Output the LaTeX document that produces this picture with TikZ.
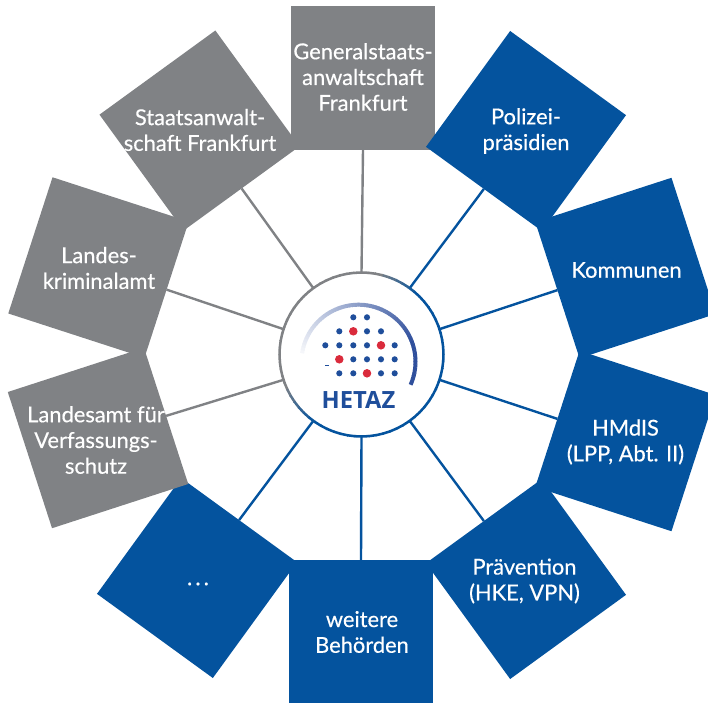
\documentclass[tikz,border=0pt]{standalone}
\usepackage{fontspec}
\setmainfont[FakeBold=0.4]{Lato}
\newfontfamily\hetazfont{Open Sans}
\definecolor{hblue}{HTML}{04539E}
\definecolor{hgray}{HTML}{808285}
\definecolor{hred}{HTML}{DA2B3C}
\definecolor{harc}{HTML}{2F4F9C}
\definecolor{hdot}{HTML}{1F4E9B}
\tikzset{
  sq/.style={rectangle,minimum size=107.4pt,inner sep=0pt,outer sep=0pt,fill=#1},
  lab/.style={text=white,align=center,font=\fontsize{16.4pt}{19.3pt}\selectfont,inner sep=0pt},
  conb/.style={draw=hblue,line width=1.8pt},
  cong/.style={draw=hgray,line width=1.8pt},
  bdot/.style={circle,fill=hdot,minimum size=4.6pt,inner sep=0pt},
  rdot/.style={circle,fill=hred,minimum size=6.4pt,inner sep=0pt},
}
\begin{document}
\begin{tikzpicture}[x=0.75pt,y=-0.75pt]
\useasboundingbox (0,0) rectangle (708,703);
\clip (0,0) rectangle (708,703);
% hub
\node[circle,minimum size=123pt,inner sep=0pt,outer sep=0pt] (hub) at (361.5,354.5) {};
% squares (order gives the overlaps)
\node[sq=hblue,rotate=144] (sD) at (197,578) {};
\node[sq=hgray,rotate=108] (sL) at (98,438) {};
\node[sq=hgray,rotate=72] (sLK) at (98.5,267.5) {};
\node[sq=hgray,rotate=36] (sS) at (199.5,130.5) {};
\node[sq=hgray,rotate=0] (sG) at (363,78) {};
\node[sq=hblue,rotate=-36] (sP) at (526,131) {};
\node[sq=hblue,rotate=-72] (sK) at (625.5,268) {};
\node[sq=hblue,rotate=-108] (sH) at (625.5,441) {};
\node[sq=hblue,rotate=-144] (sV) at (526,579) {};
\node[sq=hblue,rotate=180] (sW) at (361,632) {};
% connectors
\foreach \a/\n/\st in {54/sP/conb,18/sK/conb,-18/sH/conb,-54/sV/conb,-90/sW/conb,-126/sD/conb,-162/sL/cong,162/sLK/cong,126/sS/cong,90/sG/cong}{
  \draw[\st] (hub.\a) -- (\n.south);
}
% hub ring
\foreach \i in {0,...,71}{
  \pgfmathsetmacro{\aa}{\i*5}
  \pgfmathsetmacro{\bb}{\aa+5.5}
  \pgfmathsetmacro{\xa}{361.5+82*cos(\aa)}
  \pgfmathsetmacro{\ya}{354.5-82*sin(\aa)}
  \pgfmathsetmacro{\xb}{361.5+82*cos(\bb)}
  \pgfmathsetmacro{\yb}{354.5-82*sin(\bb)}
  \pgfmathsetmacro{\gr}{max(0,min(100,min((\aa-45)*3.3,(232-\aa)*3.1)))}
  \draw[line width=1.9pt,color=hgray!\gr!hblue] (\xa,\ya) -- (\xb,\yb);
}
% logo arc
\foreach \i in {0,...,64}{
  \pgfmathsetmacro{\aa}{171.5-\i*3}
  \pgfmathsetmacro{\bb}{\aa-3.4}
  \pgfmathsetmacro{\xa}{358.5+57*cos(\aa)}
  \pgfmathsetmacro{\ya}{361.7-57*sin(\aa)}
  \pgfmathsetmacro{\xb}{358.5+57*cos(\bb)}
  \pgfmathsetmacro{\yb}{361.7-57*sin(\bb)}
  \pgfmathsetmacro{\cc}{min(100,5+\i*1.9)}
  \draw[line width=3pt,color=harc!\cc!white] (\xa,\ya) -- (\xb,\yb);
}
% logo dots
\foreach \x/\y [count=\k] in {353.3/317.3,367/317.3,
 339.3/331.3,367/331.3,381/331.3,
 325.3/345.3,339.3/345.3,353.3/345.3,367/345.3,394.7/345.3,
 353.3/359.3,367/359.3,381/359.3,394.7/359.3,
 339.3/373.3,353.3/373.3,381/373.3,394.7/373.3}{
  \node[bdot] (b\k) at (\x,\y) {};
}
\foreach \x/\y [count=\k] in {353.3/331.3,381/345.3,339.3/359.3,367/373.3}{
  \node[rdot] (r\k) at (\x,\y) {};
}
\fill[hdot] (324.5,365.2) rectangle (329.3,366.2);
\node[text=hdot,font=\hetazfont\fontsize{17.8pt}{20pt}\selectfont\bfseries,inner sep=0pt] (ht) at (358.5,400) {HETAZ};
% labels
\node[lab] (tG) at (363,77) {Generalstaats-\\anwaltschaft\\Frankfurt};
\node[lab] (tS) at (200,130) {Staatsanwalt-\\schaft Frankfurt};
\node[lab] (tLK) at (99,268) {Landes-\\kriminalamt};
\node[lab] (tL) at (96,440) {Landesamt für\\Verfassungs-\\schutz};
\node[lab] (tP) at (526,131) {Polizei-\\präsidien};
\node[lab] (tK) at (626.5,270) {Kommunen};
\node[lab] (tH) at (625.5,442) {HMdIS\\(LPP, Abt. II)};
\node[lab] (tV) at (524.5,581) {Prävention\\(HKE, VPN)};
\node[lab] (tW) at (362,632) {weitere\\Behörden};
\node[lab] (tD) at (198,584) {.\hspace{2.4pt}.\hspace{2.4pt}.};
\end{tikzpicture}
\end{document}
